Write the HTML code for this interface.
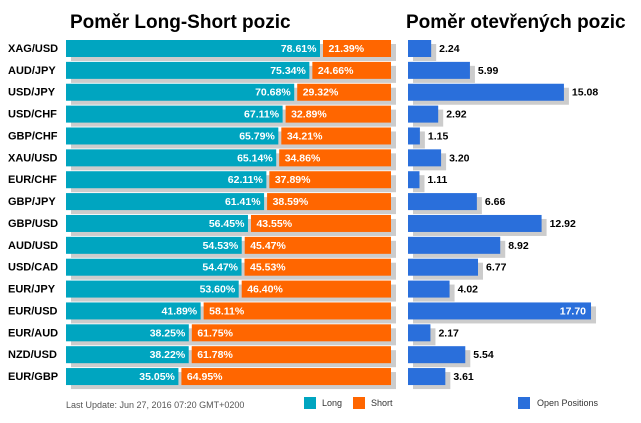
<!DOCTYPE html>
<html><head><meta charset="utf-8"><style>
body{margin:0;background:#fff;font-family:"Liberation Sans",Arial,sans-serif}
svg text{font-family:"Liberation Sans",Arial,sans-serif}
</style></head><body>
<svg id="c" width="641" height="418" xmlns="http://www.w3.org/2000/svg">
<text x="70" y="28" font-size="19" font-weight="bold" fill="#000">Poměr Long-Short pozic</text>
<text x="406" y="28" font-size="19" font-weight="bold" fill="#000">Poměr otevřených pozic</text>
<text x="66" y="408" font-size="9" fill="#555">Last Update: Jun 27, 2016 07:20 GMT+0200</text>
<rect x="304" y="397" width="12" height="12" fill="#00a5c0"/>
<text x="322" y="406" font-size="9" fill="#333">Long</text>
<rect x="353" y="397" width="12" height="12" fill="#ff6600"/>
<text x="371" y="406" font-size="9" fill="#333">Short</text>
<rect x="518" y="397" width="12" height="12" fill="#2a6fdb"/>
<text x="537" y="406" font-size="9" fill="#333">Open Positions</text>
<g id="rows"></g>
</svg>
<script>
const pairs=["XAG/USD","AUD/JPY","USD/JPY","USD/CHF","GBP/CHF","XAU/USD","EUR/CHF","GBP/JPY","GBP/USD","AUD/USD","USD/CAD","EUR/JPY","EUR/USD","EUR/AUD","NZD/USD","EUR/GBP"];
const longPct=[78.61,75.34,70.68,67.11,65.79,65.14,62.11,61.41,56.45,54.53,54.47,53.60,41.89,38.25,38.22,35.05];
const shortPct=[21.39,24.66,29.32,32.89,34.21,34.86,37.89,38.59,43.55,45.47,45.53,46.40,58.11,61.75,61.78,64.95];
const openPos=[2.24,5.99,15.08,2.92,1.15,3.20,1.11,6.66,12.92,8.92,6.77,4.02,17.70,2.17,5.54,3.61];
const NS="http://www.w3.org/2000/svg";
const g=document.getElementById('rows');
const x0=66,W=325,y0=40,pitch=21.87,bh=17,rx0=408,rs=10.34;
const maxOpen=Math.max(...openPos);
function yPos(i){return y0+i*pitch;}
function xL(p){return x0+p/100*W;}
function xR(v){return rx0+v*rs;}
function mk(tag,attrs,text){const e=document.createElementNS(NS,tag);for(const k in attrs)e.setAttribute(k,attrs[k]);if(text!==undefined)e.textContent=text;g.appendChild(e);return e;}
pairs.forEach((p,i)=>{
 const y=yPos(i);
 let e;
 e=mk('text',{x:8,y:y+12,'font-size':11,'font-weight':'bold',fill:'#000'},p);
 
 
 e=mk('rect',{x:x0+5,y:y+4,width:W,height:bh,fill:'#cccccc'});
 
 
 const lx=xL(longPct[i]);
 e=mk('rect',{x:x0,y:y,width:lx-x0-1.5,height:bh,fill:'#00a5c0'});
 
 
 const sx=xL(100-shortPct[i]);
 e=mk('rect',{x:sx+1.5,y:y,width:xL(100)-sx-1.5,height:bh,fill:'#ff6600'});
 
 
 e=mk('text',{x:lx-5,y:y+12,'font-size':10.5,'font-weight':'bold',fill:'#fff','text-anchor':'end'},longPct[i].toFixed(2)+'%');
 
 
 e=mk('text',{x:sx+7,y:y+12,'font-size':10.5,'font-weight':'bold',fill:'#fff'},shortPct[i].toFixed(2)+'%');
 
 
 const ox=xR(openPos[i]);
 e=mk('rect',{x:rx0+5,y:y+4,width:ox-rx0,height:bh,fill:'#cccccc'});
 
 
 e=mk('rect',{x:rx0,y:y,width:ox-rx0,height:bh,fill:'#2a6fdb'});
 
 
 const inside=openPos[i]===maxOpen;
 e=mk('text',inside?{x:ox-5,y:y+12,'font-size':10.5,'font-weight':'bold',fill:'#fff','text-anchor':'end'}:{x:ox+8,y:y+12,'font-size':10.5,'font-weight':'bold',fill:'#000'},openPos[i].toFixed(2));
 
 
});
</script>
</body></html>
